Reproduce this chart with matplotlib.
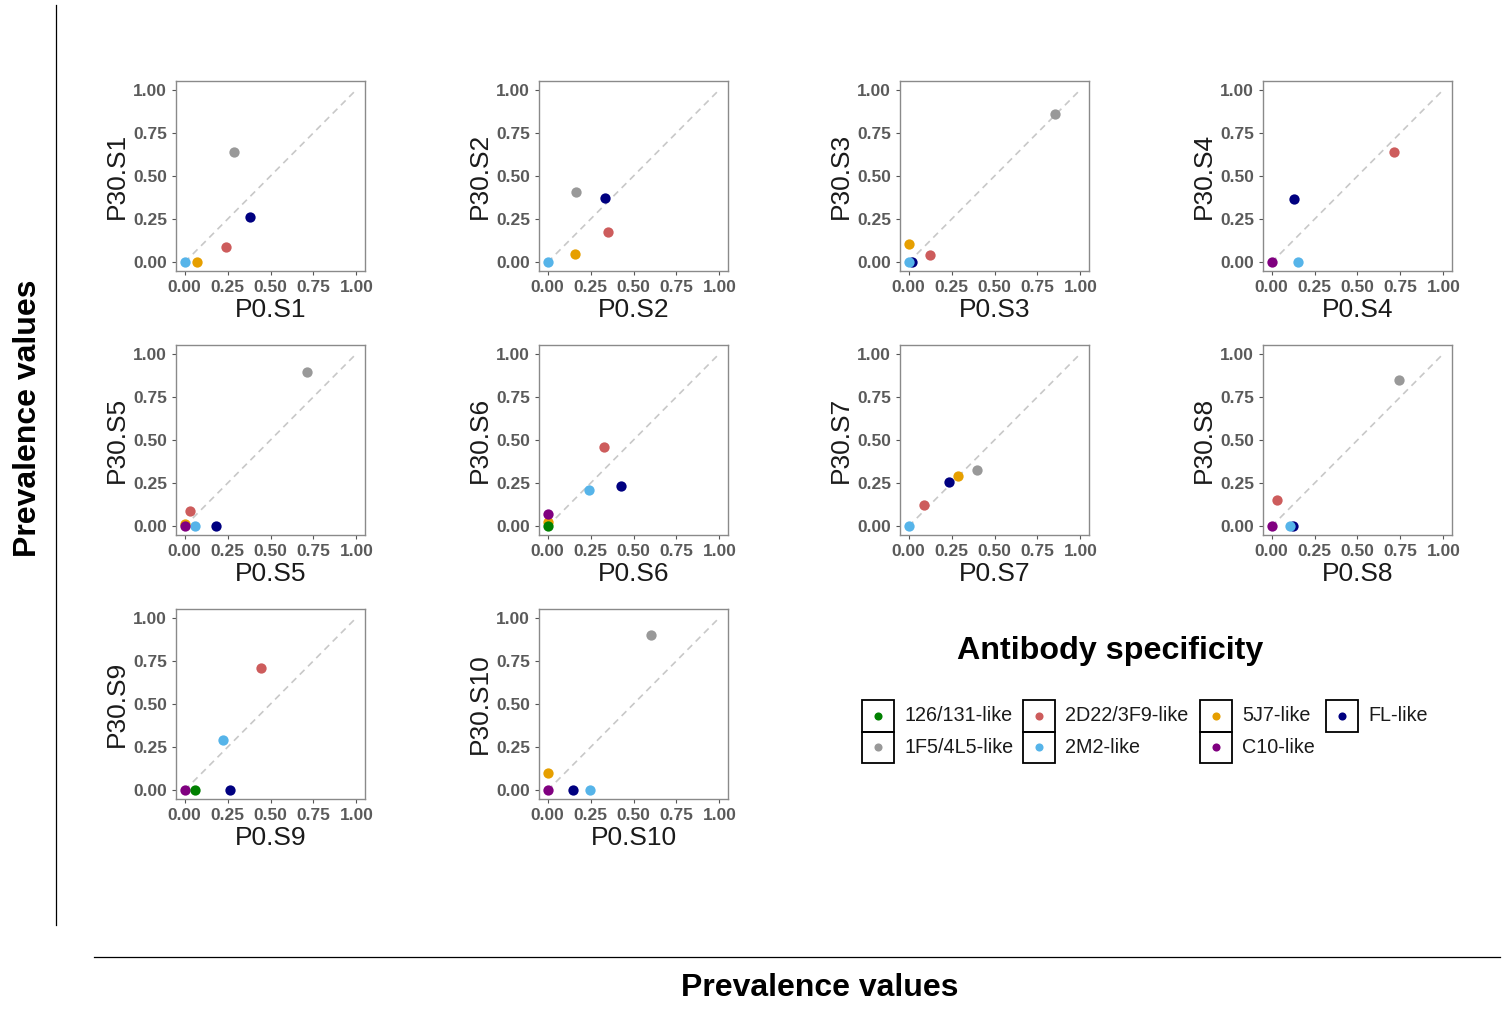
import numpy as np
import matplotlib
matplotlib.use("Agg")
import matplotlib.pyplot as plt
from matplotlib.lines import Line2D
from matplotlib.patches import Rectangle

plt.rcParams['font.family'] = ['Liberation Sans', 'DejaVu Sans']

W, H = 1502, 1015
nan = np.nan

samples = ["S1", "S2", "S3", "S4", "S5", "S6", "S7", "S8", "S9", "S10"]

# legend order
specificities = ["126/131-like", "1F5/4L5-like", "2D22/3F9-like", "2M2-like",
                 "5J7-like", "C10-like", "FL-like"]
colors = {"126/131-like": "#008000", "1F5/4L5-like": "#999999",
          "2D22/3F9-like": "#CD5C5C", "2M2-like": "#56B4E9",
          "5J7-like": "#E69F00", "C10-like": "#800080", "FL-like": "#000080"}

# prevalence at P0 and P30, one entry per sample (nan = not detected)
p0_green = [nan, nan, nan, nan, nan, 0.0, nan, nan, 0.058, nan]
p30_green = [nan, nan, nan, nan, nan, 0.0, nan, nan, 0.0, nan]
p0_gray = [0.29, 0.163, 0.85, nan, 0.71, nan, 0.396, 0.744, nan, 0.602]
p30_gray = [0.64, 0.41, 0.857, nan, 0.896, nan, 0.324, 0.845, nan, 0.90]
p0_red = [0.24, 0.35, 0.123, 0.71, 0.033, 0.33, 0.087, 0.033, 0.447, nan]
p30_red = [0.09, 0.175, 0.044, 0.638, 0.087, 0.461, 0.124, 0.15, 0.707, nan]
p0_blue = [0.0, 0.0, 0.0, 0.155, 0.06, 0.24, 0.0, 0.106, 0.222, 0.248]
p30_blue = [0.0, 0.0, 0.0, 0.0, 0.0, 0.21, 0.0, 0.0, 0.291, 0.0]
p0_orange = [0.075, 0.158, 0.0, nan, 0.0, 0.0, 0.285, nan, nan, 0.0]
p30_orange = [0.0, 0.048, 0.104, nan, 0.012, 0.023, 0.29, nan, nan, 0.10]
p0_purple = [nan, nan, nan, 0.0, 0.0, 0.0, nan, 0.0, 0.0, 0.0]
p30_purple = [nan, nan, nan, 0.0, 0.0, 0.073, nan, 0.0, 0.0, 0.0]
p0_navy = [0.38, 0.335, 0.02, 0.13, 0.185, 0.425, 0.233, 0.123, 0.264, 0.146]
p30_navy = [0.265, 0.375, 0.0, 0.364, 0.0, 0.232, 0.259, 0.0, 0.0, 0.0]

# drawing order inside each panel
layers = [("1F5/4L5-like", p0_gray, p30_gray),
          ("2D22/3F9-like", p0_red, p30_red),
          ("5J7-like", p0_orange, p30_orange),
          ("FL-like", p0_navy, p30_navy),
          ("2M2-like", p0_blue, p30_blue),
          ("C10-like", p0_purple, p30_purple),
          ("126/131-like", p0_green, p30_green)]

ticks = [0.0, 0.25, 0.5, 0.75, 1.0]
tick_labels = ["0.00", "0.25", "0.50", "0.75", "1.00"]

fig = plt.figure(figsize=(W / 100, H / 100), dpi=100)


def px_rect(left, top, w, h):
    return [left / W, 1 - (top + h) / H, w / W, h / H]


col_left = [176, 539, 900, 1263]
row_top = [81, 345, 609]
pw, ph = 189, 190

for i, s in enumerate(samples):
    r, c = divmod(i, 4)
    ax = fig.add_axes(px_rect(col_left[c], row_top[r], pw, ph))
    ax.plot([0, 1], [0, 1], ls=(0, (4, 3)), color="#c8c8c8", lw=1.2, zorder=1)
    for name, xs, ys in layers:
        if not np.isnan(xs[i]):
            ax.scatter(xs[i], ys[i], s=55, color=colors[name], lw=0, zorder=3)
    ax.set_xlim(-0.05, 1.05)
    ax.set_ylim(-0.05, 1.05)
    ax.set_xticks(ticks)
    ax.set_yticks(ticks)
    ax.set_xticklabels(tick_labels, fontweight="bold")
    ax.set_yticklabels(tick_labels, fontweight="bold")
    ax.tick_params(length=3, width=0.8, color="#555555", labelcolor="#5a5a5a",
                   labelsize=12.5, pad=3.5)
    for sp in ax.spines.values():
        sp.set_color("#8a8a8a")
        sp.set_linewidth(1.0)
    ax.set_xlabel("P0." + s, fontsize=19, color="#1a1a1a", labelpad=2)
    ax.set_ylabel("P30." + s, fontsize=19, color="#1a1a1a", labelpad=3)

# shared outer axis titles and lines
fig.add_artist(Line2D([56 / W, 56 / W], [1 - 5 / H, 1 - 925 / H], color="black", lw=0.9))
fig.add_artist(Line2D([94 / W, 1500 / W], [1 - 957 / H, 1 - 957 / H], color="black", lw=0.9))
fig.text(28 / W, 1 - 418 / H, "Prevalence values", rotation=90, ha="center", va="center",
         fontsize=23, fontweight="bold")
fig.text(820 / W, 1 - 988 / H, "Prevalence values", ha="center", va="center",
         fontsize=23, fontweight="bold")

# legend, drawn in pixel coordinates
lg = fig.add_axes([0, 0, 1, 1], zorder=5)
lg.set_xlim(0, W)
lg.set_ylim(H, 0)
lg.axis("off")
lg.text(1110, 651, "Antibody specificity", ha="center", va="center",
        fontsize=23.2, fontweight="bold")

key_x = [862, 1023, 1200, 1326]
row_y = [700, 731.5]
kw, kh = 32, 31.5
legend_cols = [["126/131-like", "1F5/4L5-like"], ["2D22/3F9-like", "2M2-like"],
               ["5J7-like", "C10-like"], ["FL-like"]]
for kx, names in zip(key_x, legend_cols):
    for ry, name in zip(row_y, names):
        lg.add_patch(Rectangle((kx, ry), kw, kh, fill=False, ec="black", lw=1.3))
        lg.scatter(kx + kw / 2, ry + kh / 2, s=34, color=colors[name], lw=0)
        lg.text(kx + kw + 10, ry + kh / 2, name, ha="left", va="center",
                fontsize=14.2, color="#1a1a1a")

fig.savefig("out.png", dpi=100)
